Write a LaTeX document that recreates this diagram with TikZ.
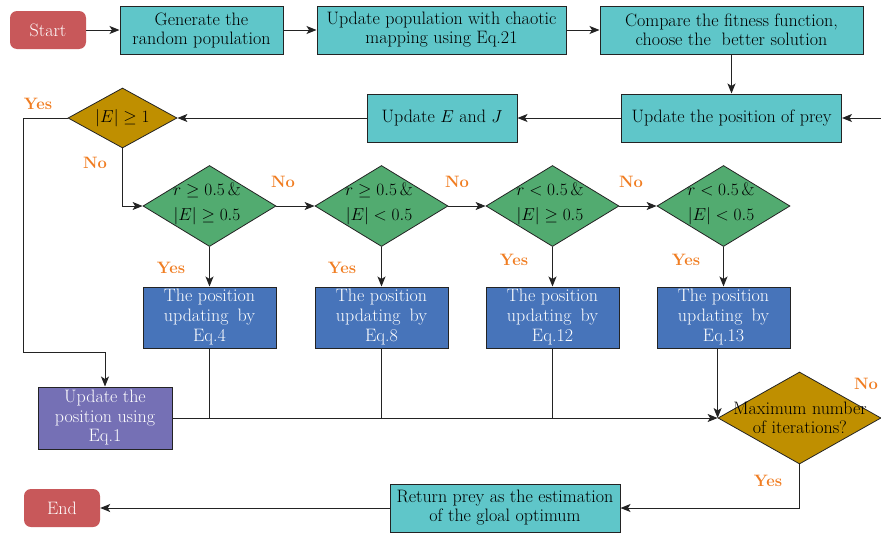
\documentclass[tikz,border=0pt]{standalone}
\usepackage{fontspec}
\usetikzlibrary{arrows.meta,shapes.geometric}
\definecolor{startred}{RGB}{200,88,90}
\definecolor{teal1}{RGB}{95,198,201}
\definecolor{gold1}{RGB}{191,143,0}
\definecolor{green1}{RGB}{82,171,112}
\definecolor{blue1}{RGB}{71,116,186}
\definecolor{purple1}{RGB}{117,112,181}
\definecolor{orange1}{RGB}{240,125,34}
\definecolor{edge}{RGB}{35,35,35}
\begin{document}
\begin{tikzpicture}[x=1pt,y=-1pt,
  every node/.style={font=\fontsize{18}{19}\selectfont, inner sep=0pt},
  term/.style={fill=startred, rounded corners=7pt, text=white, minimum width=76pt, minimum height=38pt},
  tbox/.style={draw=edge, line width=1pt, fill=teal1, align=center, minimum height=48pt},
  bbox/.style={draw=edge, line width=1pt, fill=blue1, text=white, align=center, minimum width=133pt, minimum height=61pt, font=\fontsize{18}{20}\selectfont},
  pbox/.style={draw=edge, line width=1pt, fill=purple1, text=white, align=center, minimum width=134pt, minimum height=62pt, font=\fontsize{18}{19.5}\selectfont},
  gdia/.style={diamond, draw=edge, line width=0.8pt, fill=green1, minimum width=133pt, minimum height=81pt},
  ydia/.style={diamond, draw=edge, line width=0.8pt, fill=gold1},
  dtext/.style={align=center, font=\fontsize{18}{25}\selectfont},
  lbl/.style={text=orange1, font=\bfseries\fontsize{16.5}{17}\selectfont},
  arr/.style={draw=edge, line width=1pt, -{Stealth[length=10pt,width=8pt,inset=2.5pt]}},
  ln/.style={draw=edge, line width=1pt},
]
\useasboundingbox (0,0) rectangle (881,533);

% top row
\node[term] (start) at (48,30) {Start};
\node[tbox, minimum width=163pt] (gen) at (201.5,30) {Generate the\\random population};
\node[tbox, minimum width=249pt] (upd) at (441.5,30) {Update population with chaotic\\mapping using Eq.21};
\node[tbox, minimum width=263pt] (cmp) at (731.5,30) {Compare the fitness function,\\choose the\ \ better solution};

% second row
\node[tbox, minimum width=220pt] (prey) at (731.5,118) {Update the position of prey};
\node[tbox, minimum width=150pt] (ej) at (442,118) {Update $E$ and $J$};
\node[ydia, minimum width=109pt, minimum height=60pt] (d0) at (122.5,118) {};
\node[dtext] (d0t) at (122.5,118) {$\left|E\right|\geq 1$};

% green diamonds
\node[gdia] (d1) at (209.5,206) {};
\node[gdia] (d2) at (381.5,206) {};
\node[gdia] (d3) at (552.5,206) {};
\node[gdia] (d4) at (723.5,206) {};
\node[dtext] (d1t) at (207,204) {$r\geq 0.5\,\&$\\$\left|E\right|\geq 0.5$};
\node[dtext] (d2t) at (379,204) {$r\geq 0.5\,\&$\\$\left|E\right|< 0.5$};
\node[dtext] (d3t) at (550,204) {$r< 0.5\,\&$\\$\left|E\right|\geq 0.5$};
\node[dtext] (d4t) at (721,204) {$r< 0.5\,\&$\\$\left|E\right|< 0.5$};

% blue boxes
\node[bbox] (b1) at (209.5,317.5) {The position\\updating\enspace by\\Eq.4};
\node[bbox] (b2) at (381.5,317.5) {The position\\updating\enspace by\\Eq.8};
\node[bbox] (b3) at (552.5,317.5) {The position\\updating\enspace by\\Eq.12};
\node[bbox] (b4) at (723.5,317.5) {The position\\updating\enspace by\\Eq.13};

% Eq.1 box
\node[pbox] (eq1) at (105,418) {Update the\\position using\\Eq.1};

% max iterations diamond
\node[ydia, minimum width=163pt, minimum height=92pt] (mx) at (799.5,418) {};
\node[dtext, font=\fontsize{18}{19}\selectfont] (mxt) at (800,418) {Maximum number\\of iterations?};

% bottom row
\node[tbox, minimum width=230pt] (ret) at (505,508) {Return prey as the estimation\\of the gloal optimum};
\node[term] (end) at (62,508) {End};

% connectors
\draw[arr] (start) -- (gen);
\draw[arr] (gen) -- (upd);
\draw[arr] (upd) -- (cmp);
\draw[arr] (cmp.south) -- (prey.north);
\coordinate (loopin) at (882,118);
\draw[arr] (loopin) -- (prey.east);
\draw[arr] (prey) -- (ej);
\draw[arr] (ej.west) -- (d0.east);
\draw[arr] (d0.west) -- (23,118) -- (23,352) -- (105,352) -- (eq1.north);
\draw[arr] (d0.south) |- (d1.west);
\draw[arr] (d1.east) -- (d2.west);
\draw[arr] (d2.east) -- (d3.west);
\draw[arr] (d3.east) -- (d4.west);
\draw[arr] (d1.south) -- (b1.north);
\draw[arr] (d2.south) -- (b2.north);
\draw[arr] (d3.south) -- (b3.north);
\draw[arr] (d4.south) -- (b4.north);
\draw[arr] (eq1.east) -- (mx.west);
\draw[ln] (b1.south) -- (b1.south |- mx.west);
\draw[ln] (b2.south) -- (b2.south |- mx.west);
\draw[ln] (b3.south) -- (b3.south |- mx.west);
\draw[arr] (b4.south -| mx.west) -- (mx.west);
\draw[arr] (mx.south) |- (ret.east);
\draw[arr] (ret) -- (end);

% labels
\node[lbl] (l1) at (38,104) {Yes};
\node[lbl] (l2) at (95,163) {No};
\node[lbl] (l3) at (283,182) {No};
\node[lbl] (l4) at (457,182) {No};
\node[lbl] (l5) at (631,182) {No};
\node[lbl] (l6) at (171,268) {Yes};
\node[lbl] (l7) at (342,268) {Yes};
\node[lbl] (l8) at (514,260) {Yes};
\node[lbl] (l9) at (686,260) {Yes};
\node[lbl] (l10) at (866,384) {No};
\node[lbl] (l11) at (768,481) {Yes};
\end{tikzpicture}
\end{document}
